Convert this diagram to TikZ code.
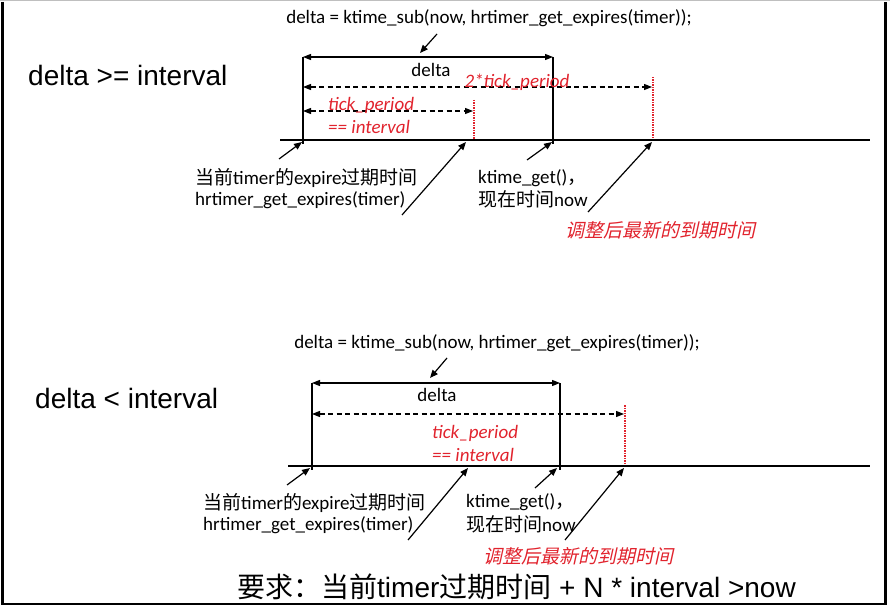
\documentclass[tikz,border=0pt]{standalone}
\usepackage{fontspec}
\setmainfont{Carlito}
\newfontfamily\cjk{Noto Sans CJK SC}
\newfontfamily\cjkit[FakeSlant=0.22]{Noto Sans CJK SC}
\newfontfamily\arial{Liberation Sans}
\usetikzlibrary{arrows.meta}
\definecolor{myred}{RGB}{225,35,45}
\begin{document}
\begin{tikzpicture}[x=1pt,y=-1pt,
  lbl/.style={inner sep=0pt, font=\fontsize{19}{23}\selectfont},
  big/.style={inner sep=0pt, font=\arial\fontsize{28}{32}\selectfont},
  redit/.style={inner sep=0pt, text=myred, font=\itshape\fontsize{19}{23}\selectfont},
  ptr/.style={line width=1.2pt, -{Triangle[length=8pt,width=6.5pt]}},
  dimarrow/.style={line width=1.2pt, {Triangle[length=8pt,width=6pt]}-{Triangle[length=8pt,width=6pt]}},
  dimdash/.style={dimarrow, dash pattern=on 5pt off 3.5pt},
  timeline/.style={line width=2.8pt},
  vbar/.style={line width=1.4pt},
  reddot/.style={myred, line width=1.3pt, dash pattern=on 1.5pt off 1pt}]
\useasboundingbox (0,0) rectangle (890,609);
% frame
\draw[gray!50, line width=1pt] (0,0.8) -- (890,0.8);
\draw[line width=2.6pt] (2.3,2) -- (2.3,604) -- (885.5,604) -- (885.5,2);

% ===== top diagram =====
\node[lbl] (t1) at (489,18) {delta = ktime\_sub(now, hrtimer\_get\_expires(timer));};
\coordinate (t1a) at (437,34); \coordinate (t1b) at (420,53);
\draw[ptr] (t1a) -- (t1b);
\node[big, anchor=west] (c1) at (28,75) {delta >= interval};

\coordinate (L1) at (303,57); \coordinate (R1) at (553,57);
\coordinate (L1b) at (303,144); \coordinate (R1b) at (553,144);
\draw[vbar] (L1) -- (L1b);
\draw[vbar] (R1) -- (R1b);
\draw[dimarrow] (L1) -- (R1);
\node[lbl] (d1) at (431,70) {delta};

\coordinate (P1) at (474,100); \coordinate (P1b) at (474,140);
\coordinate (Q1) at (653,77); \coordinate (Q1b) at (653,140);
\draw[reddot] (P1) -- (P1b);
\draw[reddot] (Q1) -- (Q1b);

\coordinate (D1s) at (303,87); \coordinate (D1e) at (652,87);
\draw[dimdash] (D1s) -- (D1e);
\node[redit] (tp2) at (517,82) {2*tick\_period};
\coordinate (E1s) at (303,111); \coordinate (E1e) at (473,111);
\draw[dimdash] (E1s) -- (E1e);
\node[redit, anchor=west] (tp1) at (328,105) {tick\_period};
\node[redit, anchor=west] (iv1) at (328,127) {== interval};

\coordinate (A1s) at (280,140); \coordinate (A1e) at (870,140);
\draw[timeline] (A1s) -- (A1e);

\coordinate (p1a) at (279,159); \coordinate (p1b) at (302,142);
\coordinate (p2a) at (402,215); \coordinate (p2b) at (466,142);
\coordinate (p3a) at (527,160); \coordinate (p3b) at (552,142);
\coordinate (p4a) at (588,212); \coordinate (p4b) at (652,142);
\draw[ptr] (p1a) -- (p1b);
\draw[ptr] (p2a) -- (p2b);
\draw[ptr] (p3a) -- (p3b);
\draw[ptr] (p4a) -- (p4b);

\node[lbl, anchor=west] (e1) at (195,178) {{\cjk 当前}timer{\cjk 的}expire{\cjk 过期时间}};
\node[lbl, anchor=west] (e2) at (195,200) {hrtimer\_get\_expires(timer)};
\node[lbl, anchor=west] (n1) at (478,178) {ktime\_get(){\cjk ，}};
\node[lbl, anchor=west] (n2) at (478,199) {{\cjk 现在时间}now};
\node[redit, anchor=west] (r1) at (565,230) {\cjkit 调整后最新的到期时间};

% ===== bottom diagram =====
\node[lbl] (t2) at (497,343) {delta = ktime\_sub(now, hrtimer\_get\_expires(timer));};
\coordinate (t2a) at (447,358); \coordinate (t2b) at (430,378);
\draw[ptr] (t2a) -- (t2b);
\node[big, anchor=west] (c2) at (35,398) {delta < interval};

\coordinate (L2) at (312,383); \coordinate (R2) at (560,383);
\coordinate (L2b) at (312,470); \coordinate (R2b) at (560,470);
\draw[vbar] (L2) -- (L2b);
\draw[vbar] (R2) -- (R2b);
\draw[dimarrow] (L2) -- (R2);
\node[lbl] (d2) at (437,395) {delta};

\coordinate (P2) at (625,405); \coordinate (P2b) at (625,466);
\draw[reddot] (P2) -- (P2b);
\coordinate (D2s) at (312,414); \coordinate (D2e) at (624,414);
\draw[dimdash] (D2s) -- (D2e);
\node[redit, anchor=west] (tp3) at (432,433) {tick\_period};
\node[redit, anchor=west] (iv2) at (432,455) {== interval};

\coordinate (A2s) at (288,466); \coordinate (A2e) at (870,466);
\draw[timeline] (A2s) -- (A2e);

\coordinate (q1a) at (287,485); \coordinate (q1b) at (310,468);
\coordinate (q2a) at (408,540); \coordinate (q2b) at (468,468);
\coordinate (q3a) at (535,488); \coordinate (q3b) at (557,468);
\coordinate (q4a) at (565,540); \coordinate (q4b) at (624,468);
\draw[ptr] (q1a) -- (q1b);
\draw[ptr] (q2a) -- (q2b);
\draw[ptr] (q3a) -- (q3b);
\draw[ptr] (q4a) -- (q4b);

\node[lbl, anchor=west] (f1) at (203,503) {{\cjk 当前}timer{\cjk 的}expire{\cjk 过期时间}};
\node[lbl, anchor=west] (f2) at (203,525) {hrtimer\_get\_expires(timer)};
\node[lbl, anchor=west] (m1) at (466,502) {ktime\_get(){\cjk ，}};
\node[lbl, anchor=west] (m2) at (466,524) {{\cjk 现在时间}now};
\node[redit, anchor=west] (r2) at (483,556) {\cjkit 调整后最新的到期时间};

\node[big, anchor=west] (req) at (237,587) {{\cjk 要求：当前}timer{\cjk 过期时间} + N * interval >now};
\end{tikzpicture}
\end{document}
